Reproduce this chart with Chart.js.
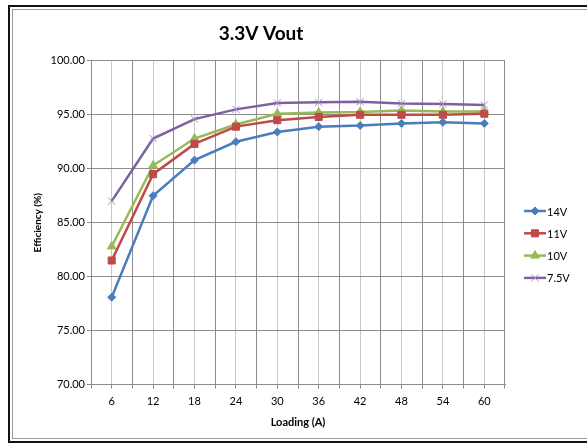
<!DOCTYPE html>
<html>
<head>
<meta charset="utf-8">
<script src="https://cdn.jsdelivr.net/npm/chart.js@4/dist/chart.umd.min.js"></script>
<style>
  html, body { margin: 0; padding: 0; background: #fff; overflow: hidden; }
  #frame { position: absolute; left: 8px; top: 5px; width: 600px; height: 434px; border: 2px solid #111; }
  #inner { position: absolute; left: 2px; top: 2px; right: 14px; bottom: 2px; border: 1px solid #9a9a9a; }
  #wrap { position: absolute; left: 0; top: 0; width: 587px; height: 444px; }
</style>
</head>
<body>
<div id="frame"><div id="inner"></div></div>
<div id="wrap"><canvas id="chart" width="587" height="444"></canvas></div>
<script>
const loading = ['6', '12', '18', '24', '30', '36', '42', '48', '54', '60'];
const eff14V = [78.1, 87.5, 90.8, 92.5, 93.4, 93.9, 94.0, 94.2, 94.3, 94.2];
const eff11V = [81.5, 89.5, 92.3, 93.9, 94.5, 94.8, 95.0, 95.0, 95.0, 95.1];
const eff10V = [82.8, 90.3, 92.8, 94.1, 95.1, 95.2, 95.25, 95.4, 95.3, 95.3];
const eff75V = [87.0, 92.8, 94.6, 95.5, 96.1, 96.15, 96.2, 96.05, 96.0, 95.9];

const font = 'Lato, "Open Sans", sans-serif';

// legend drawn like Excel: short line with the marker in the middle
const sideLegend = {
  id: 'sideLegend',
  afterDraw(chart, args, opts) {
    const ctx = chart.ctx;
    chart.data.datasets.forEach((ds, i) => {
      const y = opts.top + i * opts.gap;
      ctx.save();
      ctx.strokeStyle = ds.borderColor;
      ctx.lineWidth = ds.borderWidth;
      ctx.beginPath();
      ctx.moveTo(opts.left, y);
      ctx.lineTo(opts.left + 22, y);
      ctx.stroke();
      ctx.fillStyle = ds.pointBackgroundColor;
      ctx.strokeStyle = ds.pointBorderColor;
      ctx.lineWidth = ds.pointBorderWidth || 1;
      Chart.helpers.drawPoint(ctx, {
        pointStyle: ds.pointStyle,
        radius: ds.pointRadius,
        borderWidth: ds.pointBorderWidth || 1,
        rotation: 0
      }, opts.left + 11, y);
      ctx.fillStyle = '#000';
      ctx.font = '11px ' + font;
      ctx.textBaseline = 'middle';
      ctx.fillText(ds.label, opts.left + 23, y + 1);
      ctx.restore();
    });
  }
};

function series(label, data, color, style, radius, markColor, markWidth) {
  return {
    label, data,
    borderColor: color,
    borderWidth: 2.5,
    pointStyle: style,
    pointRadius: radius,
    pointBackgroundColor: markColor || color,
    pointBorderColor: markColor || color,
    pointBorderWidth: markWidth || 1,
    tension: 0,
    xAxisID: 'x'
  };
}

new Chart(document.getElementById('chart'), {
  type: 'line',
  data: {
    labels: loading,
    datasets: [
      series('14V', eff14V, '#4a7ebb', 'rectRot', 4),
      series('11V', eff11V, '#be4b48', 'rect', 5),
      series('10V', eff10V, '#98b954', 'triangle', 5),
      series('7.5V', eff75V, '#7d60a0', 'crossRot', 5, '#a08cc4', 1)
    ]
  },
  plugins: [sideLegend],
  options: {
    responsive: false,
    animation: false,
    layout: { padding: { left: 17, right: 82, top: 12, bottom: 15 } },
    plugins: {
      legend: { display: false },
      tooltip: { enabled: false },
      title: {
        display: true,
        text: '3.3V Vout',
        color: '#000',
        font: { family: font, size: 19, weight: 'bold' },
        padding: { top: 10, bottom: 16 }
      },
      sideLegend: { left: 524, top: 211, gap: 22.3 }
    },
    scales: {
      x: {
        type: 'category',
        position: 'bottom',
        weight: 1,
        offset: true,
        grid: { offset: true, color: '#8c8c8c', tickLength: 4, tickColor: '#8c8c8c' },
        border: { color: '#8c8c8c' },
        ticks: { color: '#000', font: { family: font, size: 11 }, padding: 6, maxRotation: 0 },
        title: {
          display: true, text: 'Loading (A)', color: '#000',
          font: { family: font, size: 11, weight: 'bold' }, padding: { top: 2, bottom: 0 }
        }
      },
      x2: {
        type: 'category',
        labels: loading,
        position: 'bottom',
        weight: 0,
        offset: true,
        grid: { offset: false, color: '#c8c8c8', tickLength: 4, tickColor: '#8c8c8c' },
        border: { display: false },
        ticks: { display: false },
        afterFit(scale) { scale.height = 0; }
      },
      y: {
        min: 70,
        max: 100,
        ticks: {
          stepSize: 5,
          color: '#000',
          font: { family: font, size: 11 },
          padding: 2,
          callback: (v) => v.toFixed(2)
        },
        grid: { color: '#8c8c8c', tickLength: 4 },
        border: { color: '#8c8c8c' },
        title: {
          display: true, text: 'Efficiency (%)', color: '#000',
          font: { family: font, size: 10, weight: 'bold' }, padding: { top: 15, bottom: 4 }
        },
        afterFit(scale) { scale.width = 74; }
      }
    }
  }
});
</script>
</body>
</html>
